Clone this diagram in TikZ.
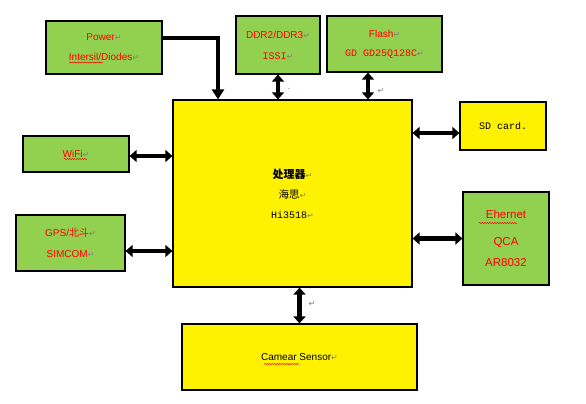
\documentclass[tikz,border=0pt]{standalone}
\usepackage{fontspec}
\setmainfont{Liberation Sans}
\setmonofont{Liberation Mono}
\newfontfamily\cjk{Noto Sans CJK SC}
\newfontfamily\symfont{DejaVu Sans}
\usetikzlibrary{arrows.meta,decorations.pathmorphing}
\definecolor{boxgreen}{HTML}{92D050}
\newcommand\ret{{\color{gray}\symfont\fontsize{8}{8}\selectfont ↵}}
\begin{document}
\begin{tikzpicture}[x=1pt,y=-1pt,
    gbox/.style={draw, line width=1.2pt, fill=boxgreen, text=red, align=center, inner sep=0pt,
        font=\fontsize{10}{20}\selectfont},
    ybox/.style={gbox, fill=yellow, text=black},
    bar/.style={line width=4.5pt, -{Triangle[width=12pt,length=10pt]}},
    dbar/.style={line width=4.5pt, {Triangle[width=12pt,length=7pt]}-{Triangle[width=12pt,length=7pt]}},
    squiggle/.style={red, line width=0.5pt, decorate, decoration={snake, amplitude=0.6pt, segment length=2.5pt}}]
    \useasboundingbox (0,0) rectangle (586,404);
    % boxes
    \node[gbox, minimum width=116, minimum height=53] (power) at (104,47.5) {Power\ret\\Intersil/Diodes\ret};
    \node[gbox, minimum width=84, minimum height=58] (ddr) at (278,45) {DDR2/DDR3\ret\\[1pt]\texttt{ISSI}\ret};
    \node[gbox, minimum width=115, minimum height=56] (flash) at (384.5,44) {Flash\ret\\[-1pt]\texttt{GD GD25Q128C}\ret};
    \node[ybox, minimum width=239, minimum height=187] (soc) at (292.5,193.5)
        {{\cjk\bfseries\fontsize{11}{20}\selectfont 处理器}\ret\\{\cjk\fontsize{10.5}{20}\selectfont 海思}\ret\\\texttt{Hi3518}\ret};
    \node[ybox, minimum width=86, minimum height=48] (sd) at (503,126) {\texttt{SD card.}};
    \node[gbox, minimum width=106, minimum height=36] (wifi) at (76,154) {WiFi\ret};
    \node[gbox, minimum width=109, minimum height=56] (gps) at (70.5,243) {GPS/{\cjk 北斗}\ret\\[1pt]SIMCOM\ret};
    \node[gbox, minimum width=86, minimum height=93, font=\fontsize{11.5}{21}\selectfont] (eth) at (506,238.5)
        {Ehernet\\[6pt]QCA\\AR8032};
    \node[ybox, minimum width=235, minimum height=66] (cam) at (299.5,357) {Camear Sensor\ret};
    % connectors
    \draw[bar] ([yshift=9.5pt]power.east) -| ([xshift=-74.5pt]soc.north);
    \draw[dbar] (ddr.south) -- (ddr.south |- soc.north);
    \draw[dbar] ([xshift=-16.5pt]flash.south) -- ([xshift=-16.5pt]flash.south |- soc.north);
    \draw[dbar] ([yshift=-7pt]sd.west) -- ([yshift=-7pt]sd.west -| soc.east);
    \draw[dbar] ([yshift=-2pt]wifi.east) -- ([yshift=-2pt]wifi.east -| soc.west);
    \draw[dbar] ([yshift=-8pt]gps.east) -- ([yshift=-8pt]gps.east -| soc.west);
    \draw[dbar] (eth.west) -- (eth.west -| soc.east);
    \draw[dbar] (cam.north |- soc.south) -- (cam.north);
    % stray marks
    \node[inner sep=0pt] (m1) at (381,91) {\ret};
    \node[inner sep=0pt] (m2) at (312,304) {\ret};
    \node[inner sep=0pt, text=blue!60!black, font=\tiny] (m3) at (289,90) {-};
    % spell-check lines
    \draw[squiggle] (69,62.5) -- (103,62.5);
    \draw[squiggle] (64,159) -- (87,159);
    \draw[squiggle] (479,223) -- (517,223);
    \draw[squiggle] (264,364) -- (299,364);
\end{tikzpicture}
\end{document}
